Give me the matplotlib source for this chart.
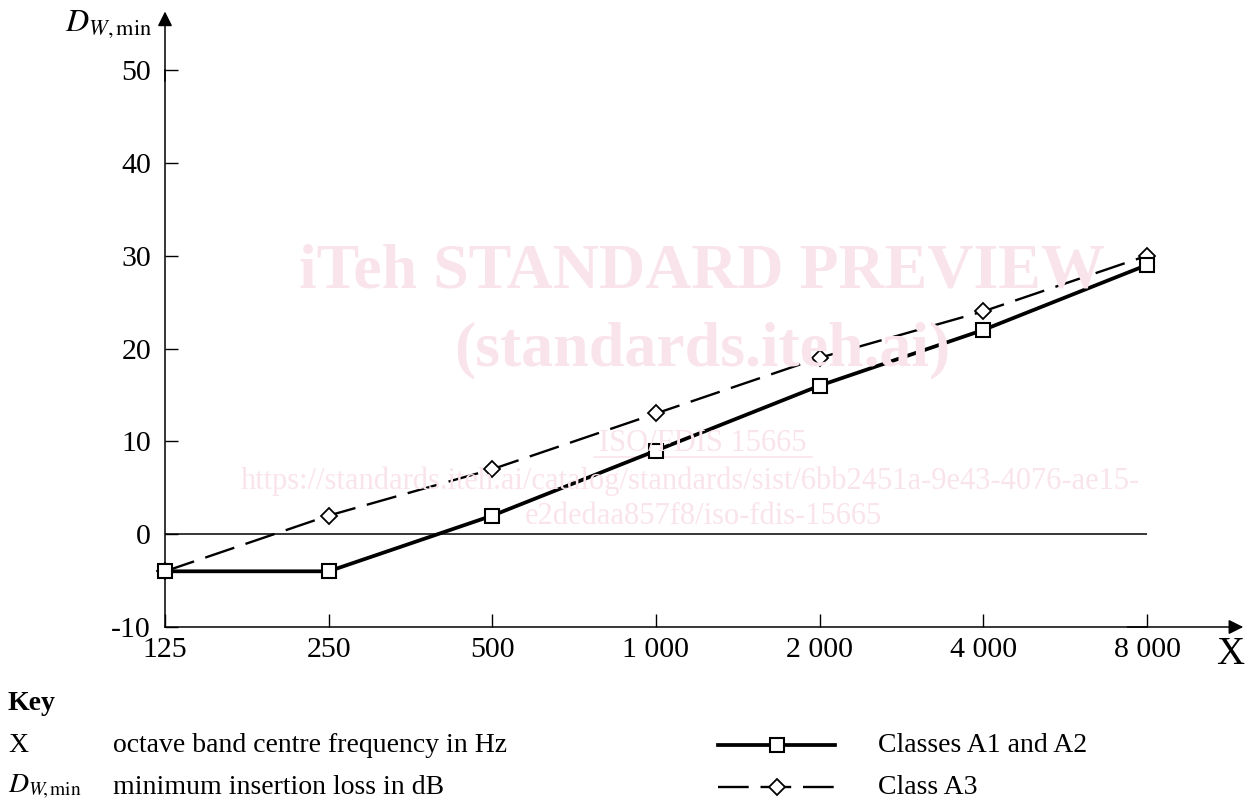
import matplotlib
matplotlib.use("Agg")
import matplotlib.pyplot as plt
import numpy as np

# Data
freqs = [125, 250, 500, 1000, 2000, 4000, 8000]
freq_labels = ["125", "250", "500", "1 000", "2 000", "4 000", "8 000"]
classes_a1_a2 = [-4, -4, 2, 9, 16, 22, 29]
class_a3 = [-4, 2, 7, 13, 19, 24, 30]
y_ticks = [-10, 0, 10, 20, 30, 40, 50]

plt.rcParams['font.family'] = ['Liberation Serif', 'DejaVu Serif']
plt.rcParams['mathtext.fontset'] = 'stix'

W, H = 1248, 808
fig = plt.figure(figsize=(W / 100, H / 100), dpi=100)

x0, x1 = 165, 1147
y0, y1 = 627, 70
ax = fig.add_axes([x0 / W, 1 - y0 / H, (x1 - x0) / W, (y0 - y1) / H])
ax.set_xscale('log')
ax.set_xlim(125, 8000)
ax.set_ylim(-10, 50)

for s in ['top', 'right']:
    ax.spines[s].set_visible(False)
for s in ['left', 'bottom']:
    ax.spines[s].set_linewidth(1.1)

ax.set_xticks(freqs)
ax.set_xticklabels(freq_labels)
ax.xaxis.set_minor_locator(matplotlib.ticker.NullLocator())
ax.set_yticks(y_ticks)
ax.set_yticklabels([str(v) for v in y_ticks])
ax.tick_params(axis='both', direction='in', length=9.5, width=1.0,
               labelsize=21.5, colors='black')
ax.tick_params(axis='x', pad=7)
ax.tick_params(axis='y', pad=10)

# arrows for axes
ax.annotate('', xy=(0, 1.105), xytext=(0, 0.98), xycoords='axes fraction',
            arrowprops=dict(arrowstyle='-|>', color='black', lw=1.1,
                            mutation_scale=22, shrinkA=0, shrinkB=0))
ax.annotate('', xy=(1.098, 0), xytext=(0.98, 0), xycoords='axes fraction',
            arrowprops=dict(arrowstyle='-|>', color='black', lw=1.1,
                            mutation_scale=22, shrinkA=0, shrinkB=0))

# watermark
wm = '#fae4eb'
fig.text(702 / W, 1 - 272 / H, 'iTeh STANDARD PREVIEW', color=wm, fontsize=46,
         fontweight='bold', ha='center', va='center', zorder=0)
fig.text(702 / W, 1 - 350 / H, '(standards.iteh.ai)', color=wm, fontsize=46,
         fontweight='bold', ha='center', va='center', zorder=0)
fig.text(703 / W, 1 - 443 / H, 'ISO/FDIS 15665', color=wm, fontsize=22,
         ha='center', va='center', zorder=0)
fig.text(690 / W, 1 - 481 / H,
         'https://standards.iteh.ai/catalog/standards/sist/6bb2451a-9e43-4076-ae15-',
         color=wm, fontsize=22, ha='center', va='center', zorder=0)
fig.text(703 / W, 1 - 516 / H, 'e2dedaa857f8/iso-fdis-15665', color=wm,
         fontsize=22, ha='center', va='center', zorder=0)
fig.add_artist(plt.Line2D([594 / W, 812 / W], [1 - 457 / H, 1 - 457 / H],
                          color=wm, lw=1.2, zorder=0))

ax.patch.set_alpha(0)

# zero line
ax.plot([125, 8000], [0, 0], color='black', lw=1.1, zorder=2)

ax.plot(freqs, classes_a1_a2, color='black', lw=2.7, marker='s', ms=9.5,
        mfc='white', mec='black', mew=1.5, zorder=4, clip_on=False)
ax.plot(freqs, class_a3, color='black', lw=1.7, dashes=(13, 5), marker='D',
        ms=8.5, mfc='white', mec='black', mew=1.3, zorder=3, clip_on=False)

# axis labels
fig.text(152 / W, 1 - 24 / H, r'$D_{W,\mathrm{min}}$', fontsize=23,
         ha='right', va='center')
fig.text(1230 / W, 1 - 654 / H, 'X', fontsize=28, ha='center', va='center')

# key
fs = 20
fig.text(8 / W, 1 - 704 / H, 'Key', fontsize=fs, fontweight='bold',
         ha='left', va='center')
fig.text(8 / W, 1 - 745 / H, 'X', fontsize=fs, ha='left', va='center')
fig.text(113 / W, 1 - 745 / H, 'octave band centre frequency in Hz',
         fontsize=fs, ha='left', va='center')
fig.text(8 / W, 1 - 787 / H, r'$D_{W\!,\mathrm{min}}$', fontsize=fs,
         ha='left', va='center')
fig.text(113 / W, 1 - 787 / H, 'minimum insertion loss in dB', fontsize=fs,
         ha='left', va='center')

# legend samples
fig.add_artist(plt.Line2D([718 / W, 835 / W], [1 - 745 / H] * 2, color='black',
                          lw=2.7))
fig.add_artist(plt.Line2D([777 / W], [1 - 745 / H], color='black', marker='s',
                          ms=9.5, mfc='white', mec='black', mew=1.5, lw=0))
fig.add_artist(plt.Line2D([718 / W, 835 / W], [1 - 787 / H] * 2, color='black',
                          lw=1.7, dashes=(13, 5)))
fig.add_artist(plt.Line2D([777 / W], [1 - 787 / H], color='black', marker='D',
                          ms=8.5, mfc='white', mec='black', mew=1.3, lw=0))
fig.text(878 / W, 1 - 745 / H, 'Classes A1 and A2', fontsize=fs,
         ha='left', va='center')
fig.text(878 / W, 1 - 787 / H, 'Class A3', fontsize=fs, ha='left', va='center')

fig.savefig('out.png', dpi=100)
